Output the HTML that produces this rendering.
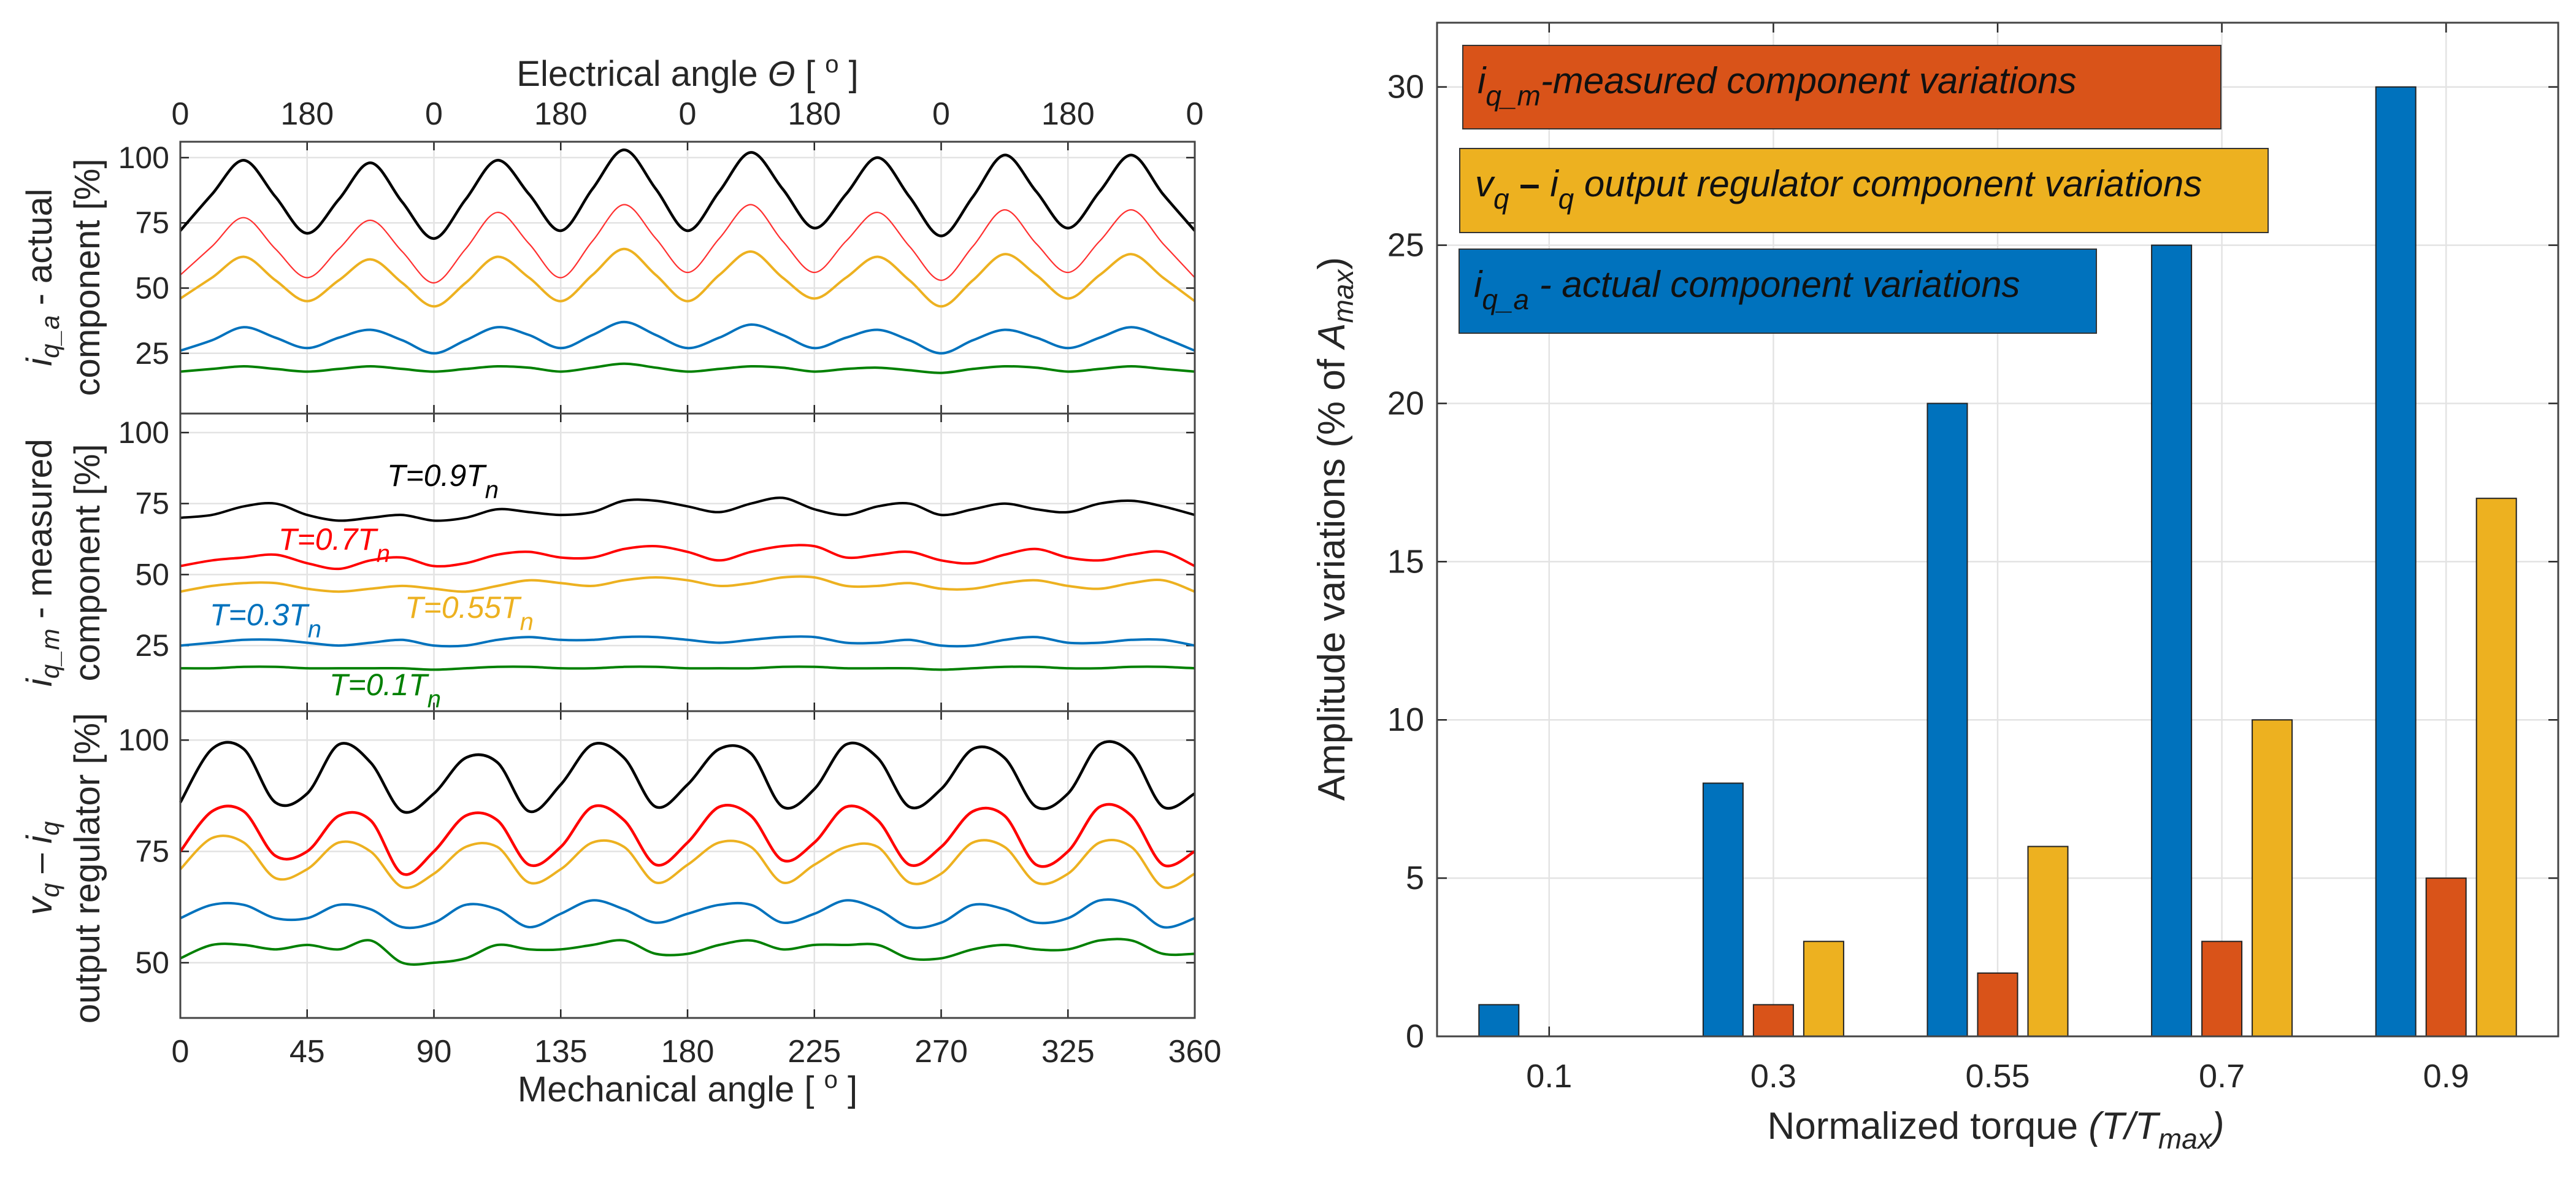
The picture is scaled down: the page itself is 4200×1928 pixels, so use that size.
<!DOCTYPE html>
<html><head><meta charset="utf-8"><style>
html,body{margin:0;padding:0;background:#fff;}
svg{display:block;font-family:"Liberation Sans",Arial,sans-serif;}
</style></head><body>
<svg id="fig" width="4200" height="1928" viewBox="0 0 4200 1928" xmlns="http://www.w3.org/2000/svg">
<rect width="4200" height="1928" fill="#fff"/>
<g id="left"></g><g id="right"></g>
</svg>
<script>
// ---------- LEFT CHART DATA ----------
const mechTicks=["0","45","90","135","180","225","270","325","360"];
const elecTicks=["0","180","0","180","0","180","0","180","0"];
const seriesNames=["T=0.9Tn","T=0.7Tn","T=0.55Tn","T=0.3Tn","T=0.1Tn"];
// samples every 11.25 deg mechanical (0..360)
const p1Black=[72,86,99,85,71,84,98,83,69,84,99,86,72,88,103,88,72,87,102,88,73,86,100,85,70,85,101,87,73,87,101,86,72];
const p1Red=[55,66,77,65,54,65,76,64,52,65,79,67,54,68,82,69,56,69,82,68,56,68,79,66,53,66,80,67,56,68,80,67,54];
const p1Yellow=[46,54,62,53,45,53,61,52,43,52,62,54,45,55,65,55,45,55,64,54,46,54,62,53,43,53,63,55,46,55,63,54,45];
const p1Blue=[26,30,35,31,27,31,34,30,25,30,35,32,27,32,37,32,27,31,36,32,27,31,34,30,25,30,34,31,27,31,35,31,26];
const p1Green=[18,19,20,19,18,19,20,19,18,19,20,19.5,18,19.5,21,19.5,18,19,20,19.5,18,19,19.5,18.5,17.5,19,20,19.5,18,19,20,19,18];
const p2Black=[70,71,74,75,71,69,70,71,69,70,73,72,71,72,76,76,74,72,75,77,73,71,74,75,71,73,75,73,72,75,76,74,71];
const p2Red=[53,55,56,57,54,52,55,56,53,54,57,58,56,56,59,60,58,55,58,60,60,56,57,58,55,54,57,59,56,55,57,58,53];
const p2Yellow=[44,46,47,47,45,44,45,46,45,44,46,48,47,46,48,49,48,46,47,49,49,46,46,47,45,45,47,48,46,45,47,48,44];
const p2Blue=[25,26,27,27,26,25,26,27,25,25,27,28,27,27,28,28,27,26,27,28,28,26,26,27,25,25,27,28,26,26,27,27,25];
const p2Green=[17,17,17.5,17.5,17,17,17,17,16.5,17,17.5,17.5,17,17,17.5,17.5,17,17,17,17.5,17.5,17,17,17,16.5,17,17.5,17.5,17,17,17.5,17.5,17];
const p3Black=[86,98,98,86,88,99,95,84,88,96,95,84,90,99,96,85,90,98,97,85,89,99,96,85,89,98,96,85,88,99,97,85,88];
const p3Red=[75,84,84,74,75,83,82,70,75,83,82,72,76,85,82,72,77,85,83,73,77,85,82,72,76,84,83,72,75,85,83,72,75];
const p3Yellow=[71,78,77,69,71,77,75,67,70,76,76,68,71,77,76,68,72,77,76,68,72,76,76,68,70,77,76,68,70,77,76,67,70];
const p3Blue=[60,63,63,60,60,63,62,58,59,63,62,58,61,64,62,59,61,63,63,59,61,64,62,58,59,63,62,59,60,64,63,58,60];
const p3Green=[51,54,54,53,54,53,55,50,50,51,54,53,53,54,55,52,52,54,55,53,54,54,54,51,51,53,54,53,53,55,55,52,52];

// ---------- RIGHT CHART DATA ----------
const torqueCats=["0.1","0.3","0.55","0.7","0.9"];
const actualVals=[1,8,20,25,30];
const measuredVals=[0,1,2,3,5];
const regulatorVals=[0,3,6,10,17];
const barYTicks=[0,5,10,15,20,25,30];

const NS="http://www.w3.org/2000/svg";
function mk(parent,tag,attrs,text){const e=document.createElementNS(NS,tag);for(const k in attrs)e.setAttribute(k,attrs[k]);if(text!==undefined)e.textContent=text;parent.appendChild(e);return e;}
const TXT="#262626";
const left=document.getElementById('left');
const L=294,R=1948;
const xMech=a=>L+(R-L)*a/360;
const panels=[
 {top:231,bot:674,ymin:1.9,ymax:106.1,ticks:[25,50,75,100],series:[[p1Black,"#000",4.5],[p1Red,"#ff3030",2.2],[p1Yellow,"#EDB120",4],[p1Blue,"#0072BD",4],[p1Green,"#008000",4]],name:"actual"},
 {top:674,bot:1159,ymin:1.9,ymax:106.7,ticks:[25,50,75,100],series:[[p2Black,"#000",4],[p2Red,"#ff0000",4],[p2Yellow,"#EDB120",4],[p2Blue,"#0072BD",4],[p2Green,"#008000",4]],name:"measured"},
 {top:1159,bot:1659,ymin:37.6,ymax:106.5,ticks:[50,75,100],series:[[p3Black,"#000",4.5],[p3Red,"#ff0000",4.5],[p3Yellow,"#EDB120",4],[p3Blue,"#0072BD",4],[p3Green,"#008000",4]],name:"regulator"}
];
function smoothPath(pts){let d="M"+pts[0][0].toFixed(1)+","+pts[0][1].toFixed(1);
 for(let i=0;i<pts.length-1;i++){const p0=pts[Math.max(0,i-1)],p1=pts[i],p2=pts[i+1],p3=pts[Math.min(pts.length-1,i+2)];
 const c1=[p1[0]+(p2[0]-p0[0])/6,p1[1]+(p2[1]-p0[1])/6],c2=[p2[0]-(p3[0]-p1[0])/6,p2[1]-(p3[1]-p1[1])/6];
 d+=" C"+c1[0].toFixed(1)+","+c1[1].toFixed(1)+" "+c2[0].toFixed(1)+","+c2[1].toFixed(1)+" "+p2[0].toFixed(1)+","+p2[1].toFixed(1);}
 return d;}
panels.forEach((p,pi)=>{
 const g=mk(left,'g',{});
 
 
 const y=v=>p.bot-(p.bot-p.top)*(v-p.ymin)/(p.ymax-p.ymin);
 for(let i=1;i<8;i++){const gl=mk(g,'line',{x1:xMech(i*45),x2:xMech(i*45),y1:p.top,y2:p.bot,stroke:"#e3e3e3","stroke-width":2.5});}
 p.ticks.forEach(t=>{const gl=mk(g,'line',{x1:L,x2:R,y1:y(t),y2:y(t),stroke:"#e3e3e3","stroke-width":2.5});
  mk(g,'line',{x1:L,x2:L+14,y1:y(t),y2:y(t),stroke:TXT,"stroke-width":2.5});mk(g,'line',{x1:R-14,x2:R,y1:y(t),y2:y(t),stroke:TXT,"stroke-width":2.5});
  const tl=mk(g,'text',{x:L-18,y:y(t)+17,"text-anchor":"end","font-size":50,fill:TXT},String(t));});
 for(let i=1;i<8;i++){mk(g,'line',{x1:xMech(i*45),x2:xMech(i*45),y1:p.top,y2:p.top+14,stroke:TXT,"stroke-width":2.5});mk(g,'line',{x1:xMech(i*45),x2:xMech(i*45),y1:p.bot-14,y2:p.bot,stroke:TXT,"stroke-width":2.5});}
 p.series.forEach((s,si)=>{const pts=s[0].map((v,i)=>[xMech(i*11.25),y(v)]);
  const path=mk(g,'path',{d:smoothPath(pts),fill:"none",stroke:s[1],"stroke-width":s[2],"stroke-linejoin":"round"});
  
  });
 const fr=mk(g,'rect',{x:L,y:p.top,width:R-L,height:p.bot-p.top,fill:"none",stroke:"#444","stroke-width":3});
 
});
mechTicks.forEach((t,i)=>{const e=mk(left,'text',{x:xMech(i*45),y:1731,"text-anchor":"middle","font-size":52,fill:TXT},t);});
elecTicks.forEach((t,i)=>{const e=mk(left,'text',{x:xMech(i*45),y:203,"text-anchor":"middle","font-size":52,fill:TXT},t);});
</script>
<script>
(function(){
const left=document.getElementById('left');
function add(html){left.insertAdjacentHTML('beforeend',html);}
add('<text x="1121" y="1795" text-anchor="middle" font-size="58" fill="#262626">Mechanical angle [ <tspan dy="-22" font-size="40">o</tspan><tspan dy="22"> ]</tspan></text>');
add('<text x="1121" y="140" text-anchor="middle" font-size="58" fill="#262626">Electrical angle <tspan font-style="italic">Θ</tspan> [ <tspan dy="-22" font-size="40">o</tspan><tspan dy="22"> ]</tspan></text>');
add('<text transform="translate(84,452) rotate(-90)" text-anchor="middle" font-size="58" fill="#262626"><tspan font-style="italic">i</tspan><tspan font-style="italic" font-size="42" dy="12">q_a</tspan><tspan dy="-12"> - actual</tspan></text>');
add('<text transform="translate(162,452) rotate(-90)" text-anchor="middle" font-size="58" fill="#262626">component [%]</text>');
add('<text transform="translate(84,917) rotate(-90)" text-anchor="middle" font-size="58" fill="#262626"><tspan font-style="italic">i</tspan><tspan font-style="italic" font-size="42" dy="12">q_m</tspan><tspan dy="-12"> - measured</tspan></text>');
add('<text transform="translate(162,917) rotate(-90)" text-anchor="middle" font-size="58" fill="#262626">component [%]</text>');
add('<text transform="translate(84,1415) rotate(-90)" text-anchor="middle" font-size="58" fill="#262626"><tspan font-style="italic">v</tspan><tspan font-style="italic" font-size="42" dy="12">q</tspan><tspan dy="-12"> – </tspan><tspan font-style="italic">i</tspan><tspan font-style="italic" font-size="42" dy="12">q</tspan></text>');
add('<text transform="translate(162,1415) rotate(-90)" text-anchor="middle" font-size="58" fill="#262626">output regulator [%]</text>');
const ann=[["T=0.9T","#000",631,792,"label-t09"],["T=0.7T","#ff0000",454,896,"label-t07"],["T=0.3T","#0072BD",342,1019,"label-t03"],["T=0.55T","#EDB120",660,1007,"label-t055"],["T=0.1T","#008000",537,1133,"label-t01"]];
ann.forEach(a=>add('<text x="'+a[2]+'" y="'+a[3]+'" font-size="50" font-style="italic" fill="'+a[1]+'">'+a[0]+'<tspan dy="20" font-size="40">n</tspan></text>'));
})();
</script>
<script>
(function(){
const NS="http://www.w3.org/2000/svg";
const right=document.getElementById('right');
function mk(parent,tag,attrs,text){const e=document.createElementNS(NS,tag);for(const k in attrs)e.setAttribute(k,attrs[k]);if(text!==undefined)e.textContent=text;parent.appendChild(e);return e;}
const BL=2343,BR=4171,BT=37,BB=1689,YMAX=32.03;
const xCat=i=>BL+(BR-BL)*(i+0.5)/torqueCats.length;
const yv=v=>BB-(BB-BT)*v/YMAX;
const TXT="#262626";
torqueCats.forEach((c,i)=>{const gl=mk(right,'line',{x1:xCat(i),x2:xCat(i),y1:BT,y2:BB,stroke:"#e3e3e3","stroke-width":2.5});
 
 mk(right,'line',{x1:xCat(i),x2:xCat(i),y1:BT,y2:BT+16,stroke:TXT,"stroke-width":2.5});
 mk(right,'line',{x1:xCat(i),x2:xCat(i),y1:BB-16,y2:BB,stroke:TXT,"stroke-width":2.5});
 const t=mk(right,'text',{x:xCat(i),y:1772,"text-anchor":"middle","font-size":54,fill:TXT},c);
 });
barYTicks.forEach(v=>{if(v>0){const gl=mk(right,'line',{x1:BL,x2:BR,y1:yv(v),y2:yv(v),stroke:"#e3e3e3","stroke-width":2.5});}
 mk(right,'line',{x1:BL,x2:BL+16,y1:yv(v),y2:yv(v),stroke:TXT,"stroke-width":2.5});
 mk(right,'line',{x1:BR-16,x2:BR,y1:yv(v),y2:yv(v),stroke:TXT,"stroke-width":2.5});
 const t=mk(right,'text',{x:2322,y:yv(v)+18,"text-anchor":"end","font-size":54,fill:TXT},String(v));
 });
const groups=[[actualVals,"#0072BD",-82,"bar-actual"],[measuredVals,"#D95319",0,"bar-measured"],[regulatorVals,"#EDB120",82,"bar-regulator"]];
const bw=65;
groups.forEach(g=>{g[0].forEach((v,i)=>{const r=mk(right,'rect',{x:xCat(i)+g[2]-bw/2,y:yv(v),width:bw,height:Math.max(0.5,BB-yv(v)),fill:g[1],stroke:"#222","stroke-width":2});
 });});
const fr=mk(right,'rect',{x:BL,y:BT,width:BR-BL,height:BB-BT,fill:"none",stroke:"#444","stroke-width":3});

right.insertAdjacentHTML('beforeend',
'<g><rect x="2385" y="74" width="1236" height="136" fill="#D95319" stroke="#333" stroke-width="2"/><text x="2409" y="152" font-size="60" font-style="italic" fill="#111">i<tspan dy="20" font-size="46">q_m</tspan><tspan dy="-20">-measured  component variations</tspan></text></g>'+
'<g><rect x="2380" y="242" width="1318" height="137" fill="#EDB120" stroke="#333" stroke-width="2"/><text x="2405" y="320" font-size="60" font-style="italic" fill="#111">v<tspan dy="20" font-size="46">q</tspan><tspan dy="-20" font-style="normal" font-weight="bold"> – </tspan>i<tspan dy="20" font-size="46">q</tspan><tspan dy="-20"> output regulator component variations</tspan></text></g>'+
'<g><rect x="2379" y="406" width="1039" height="137" fill="#0072BD" stroke="#333" stroke-width="2"/><text x="2403" y="484" font-size="60" font-style="italic" fill="#111">i<tspan dy="20" font-size="46">q_a</tspan><tspan dy="-20"> - actual component variations</tspan></text></g>'+
'<text transform="translate(2192,862) rotate(-90)" text-anchor="middle" font-size="62" fill="#262626">Amplitude variations  (% of <tspan font-style="italic">A</tspan><tspan font-style="italic" font-size="46" dy="14">max</tspan><tspan dy="-14">)</tspan></text>'+
'<text x="3254" y="1856" text-anchor="middle" font-size="62" fill="#262626">Normalized torque  <tspan font-style="italic">(T/T</tspan><tspan font-style="italic" font-size="46" dy="16">max</tspan><tspan font-style="italic" dy="-16">)</tspan></text>');
})();
</script>
</body></html>
